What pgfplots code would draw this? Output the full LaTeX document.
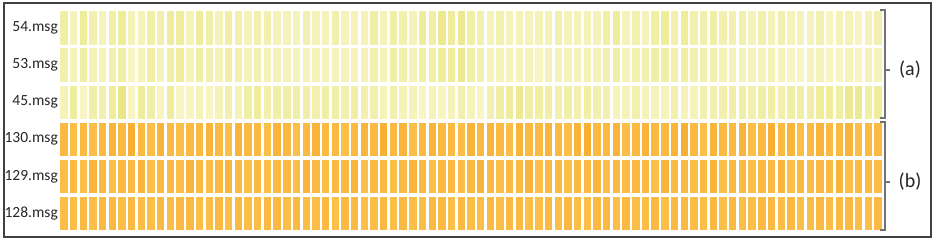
\documentclass[border=0pt]{standalone}
\usepackage{pgfplots}
\pgfplotsset{compat=1.18}
\usepackage{fontspec}
\setmainfont{Carlito}
\pgfdeclareplotmark{cell}{%
  \pgfsetcornersarced{\pgfpoint{3.2pt}{3.2pt}}%
  \pgfpathrectangle{\pgfpoint{-3.7pt}{-16.7pt}}{\pgfpoint{7.4pt}{33.4pt}}%
  \pgfusepathqfill}
\begin{document}
\begin{tikzpicture}
\useasboundingbox (0,0) rectangle (936pt,243pt);
\fill[white] (0,0) rectangle (936pt,243pt);
\draw[line width=1.6pt, black!75] (4pt,6pt) rectangle (931pt,240pt);
\begin{axis}[at={(59pt,11pt)}, anchor=south west, scale only axis,
  width=824pt, height=222.5pt, xmin=-0.5, xmax=84.5, ymin=-0.5, ymax=5.5,
  axis line style={draw=none}, xtick=\empty, ytick={0,...,5},
  yticklabels={128.msg,129.msg,130.msg,45.msg,53.msg,54.msg},
  major tick length=0pt,
  yticklabel style={font=\fontsize{15.5}{18}\selectfont, inner sep=1pt, text=black!85},
  colormap={cm}{rgb255(0cm)=(252,250,215); rgb255(10cm)=(230,226,115); rgb255(11cm)=(254,205,95); rgb255(20cm)=(244,160,30)},
  point meta min=0, point meta max=20, clip=false]
% 54.msg
\addplot[scatter, only marks, mark=cell, point meta=explicit] table[row sep=\\, x expr=\coordindex, y expr=5, meta=v] {v\\
5\\3\\6\\4\\3\\5\\6\\3\\3\\5\\4\\6\\6\\3\\6\\5\\3\\5\\4\\3\\4\\4\\
3\\3\\3\\4\\3\\3\\4\\3\\3\\3\\5\\3\\5\\4\\3\\6\\5\\7\\6\\7\\5\\
4\\3\\4\\3\\3\\3\\3\\3\\4\\3\\3\\3\\3\\5\\6\\3\\4\\3\\5\\6\\4\\
6\\4\\4\\5\\4\\4\\4\\3\\4\\3\\4\\3\\3\\3\\4\\2\\3\\3\\2\\3\\4\\
};
% 53.msg
\addplot[scatter, only marks, mark=cell, point meta=explicit] table[row sep=\\, x expr=\coordindex, y expr=4, meta=v] {v\\
4\\3\\5\\3\\3\\4\\5\\2\\3\\5\\3\\5\\6\\3\\5\\4\\3\\5\\4\\3\\4\\3\\
3\\3\\3\\3\\3\\3\\3\\3\\3\\3\\4\\3\\5\\4\\3\\5\\5\\6\\6\\7\\5\\
4\\3\\3\\3\\3\\3\\2\\3\\3\\3\\3\\3\\3\\4\\5\\3\\4\\4\\5\\5\\4\\
5\\4\\4\\4\\3\\3\\3\\3\\3\\3\\3\\2\\2\\3\\3\\2\\2\\3\\2\\3\\3\\
};
% 45.msg
\addplot[scatter, only marks, mark=cell, point meta=explicit] table[row sep=\\, x expr=\coordindex, y expr=3, meta=v] {v\\
3\\6\\2\\5\\4\\6\\8\\2\\6\\5\\2\\6\\2\\2\\3\\2\\3\\4\\3\\5\\6\\4\\
5\\5\\5\\5\\4\\5\\5\\4\\5\\4\\4\\3\\4\\3\\3\\2\\3\\2\\3\\4\\3\\
2\\4\\5\\6\\7\\5\\5\\5\\4\\5\\4\\5\\4\\4\\3\\3\\4\\3\\3\\3\\4\\
3\\3\\4\\4\\4\\5\\5\\4\\5\\5\\4\\5\\5\\5\\6\\6\\5\\7\\7\\5\\6\\
};
% 130.msg
\addplot[scatter, only marks, mark=cell, point meta=explicit] table[row sep=\\, x expr=\coordindex, y expr=2, meta=v] {v\\
15\\14\\15\\14\\15\\16\\15\\17\\15\\14\\16\\15\\14\\15\\15\\16\\15\\14\\16\\15\\
15\\14\\16\\15\\14\\15\\16\\15\\15\\14\\15\\16\\15\\17\\15\\16\\14\\15\\16\\15\\
15\\14\\16\\15\\16\\15\\14\\16\\15\\15\\16\\15\\14\\16\\17\\15\\15\\16\\14\\15\\
16\\15\\15\\16\\17\\15\\14\\16\\15\\15\\16\\14\\15\\17\\15\\16\\14\\15\\16\\15\\
15\\16\\14\\15\\15\\
};
% 129.msg
\addplot[scatter, only marks, mark=cell, point meta=explicit] table[row sep=\\, x expr=\coordindex, y expr=1, meta=v] {v\\
14\\15\\14\\16\\15\\14\\15\\15\\16\\14\\15\\15\\14\\16\\15\\14\\15\\16\\15\\14\\
15\\14\\15\\15\\14\\16\\15\\14\\15\\15\\16\\14\\15\\15\\14\\15\\16\\15\\14\\15\\
15\\14\\15\\16\\15\\14\\15\\15\\16\\14\\15\\15\\14\\15\\15\\16\\14\\15\\14\\15\\
15\\14\\16\\15\\15\\14\\15\\16\\14\\15\\15\\14\\15\\15\\16\\14\\15\\14\\15\\15\\
16\\14\\15\\15\\14\\
};
% 128.msg
\addplot[scatter, only marks, mark=cell, point meta=explicit] table[row sep=\\, x expr=\coordindex, y expr=0, meta=v] {v\\
14\\14\\15\\14\\15\\15\\14\\15\\14\\14\\15\\14\\15\\15\\14\\14\\15\\14\\15\\14\\
14\\15\\15\\14\\15\\14\\14\\15\\14\\15\\15\\14\\14\\15\\14\\15\\14\\14\\15\\15\\
14\\15\\14\\14\\15\\14\\15\\15\\14\\14\\15\\14\\15\\14\\14\\15\\15\\14\\15\\14\\
14\\15\\14\\15\\15\\14\\14\\15\\14\\15\\14\\14\\15\\15\\14\\15\\14\\14\\15\\14\\
15\\15\\14\\14\\15\\
};
\end{axis}
\draw[black!55, line width=1.1pt] (880pt,233pt) -- (885pt,233pt) -- (885pt,125pt) -- (880pt,125pt);
\draw[black!55, line width=1.1pt] (885pt,173pt) -- (890pt,173pt);
\draw[black!55, line width=1.1pt] (880pt,121pt) -- (885pt,121pt) -- (885pt,13pt) -- (880pt,13pt);
\draw[black!55, line width=1.1pt] (885pt,61pt) -- (890pt,61pt);
\node[font=\fontsize{20}{23}\selectfont, text=black!85] at (910pt,173pt) {(a)};
\node[font=\fontsize{20}{23}\selectfont, text=black!85] at (910pt,61pt) {(b)};
\end{tikzpicture}
\end{document}
